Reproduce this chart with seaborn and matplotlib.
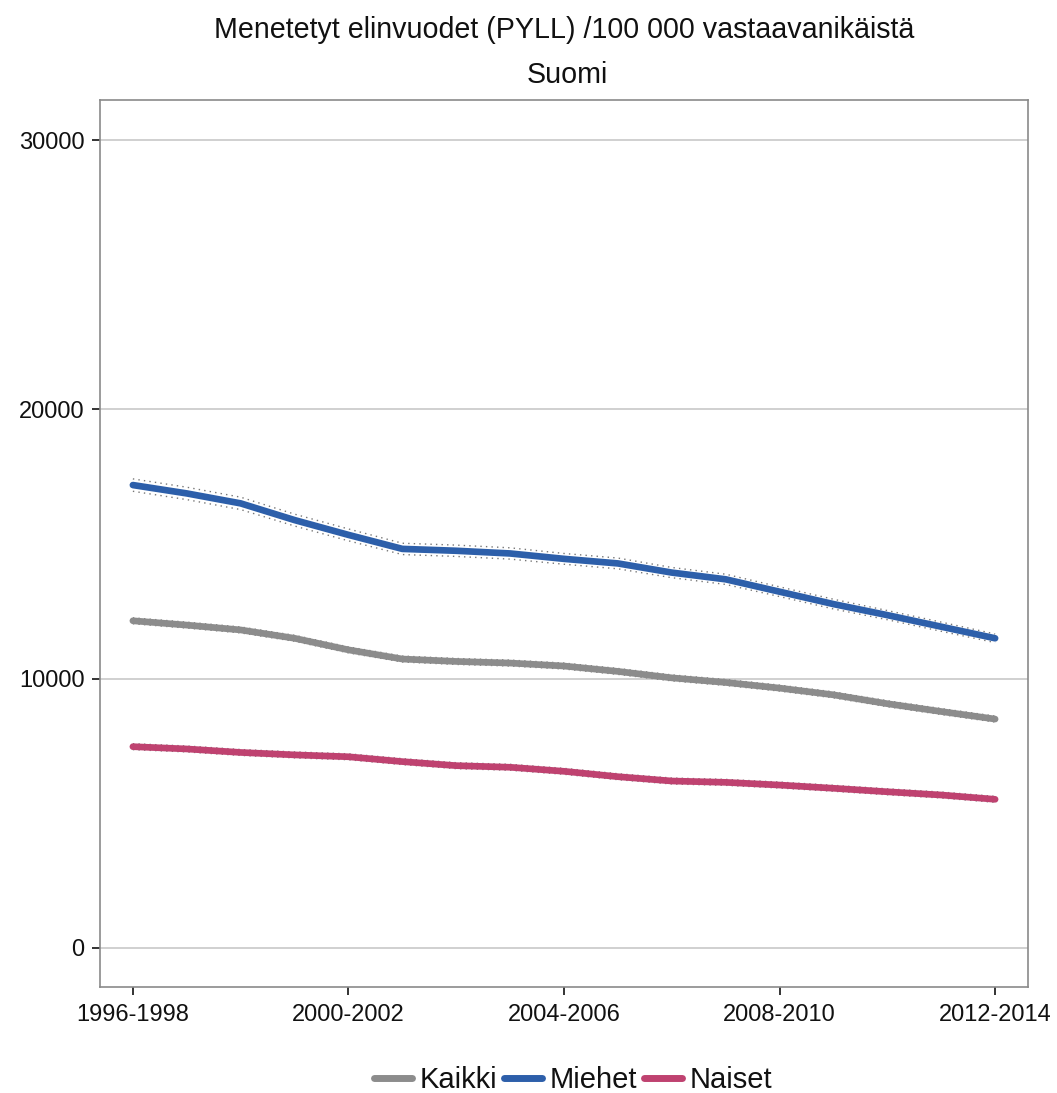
import numpy as np
import pandas as pd
import matplotlib
matplotlib.use("Agg")
import matplotlib.pyplot as plt
import seaborn as sns

periods = [f"{y}-{y+2}" for y in range(1996, 2013)]
kaikki = [12150, 11990, 11810, 11500, 11070, 10730, 10640, 10580, 10470,
          10270, 10030, 9860, 9650, 9400, 9070, 8780, 8500]
miehet = [17190, 16880, 16510, 15890, 15340, 14820, 14750, 14650, 14450,
          14280, 13940, 13690, 13230, 12770, 12360, 11930, 11500]
naiset = [7475, 7390, 7260, 7170, 7100, 6920, 6770, 6710, 6560,
          6360, 6200, 6150, 6050, 5930, 5800, 5680, 5520]
ci_kaikki = [110] * 17
ci_miehet = [230, 230, 230, 220, 220, 210, 210, 210, 200,
             200, 190, 190, 180, 180, 170, 170, 160]
ci_naiset = [110] * 17
series_names = ["Kaikki", "Miehet", "Naiset"]
colors = {"Kaikki": "#8c8c8c", "Miehet": "#2d5faa", "Naiset": "#bf4270"}
tick_labels = ["1996-1998", "2000-2002", "2004-2006", "2008-2010", "2012-2014"]

rows = []
for name, vals, ci in zip(series_names, [kaikki, miehet, naiset],
                          [ci_kaikki, ci_miehet, ci_naiset]):
    for i, (p, v, c) in enumerate(zip(periods, vals, ci)):
        rows.append({"idx": i, "period": p, "series": name, "value": v,
                     "low": v - c, "high": v + c})
df = pd.DataFrame(rows)

sns.set_style("white")
plt.rcParams["font.family"] = ["Liberation Sans", "DejaVu Sans"]

fig = plt.figure(figsize=(10.57, 10.93), dpi=100)
ax = fig.add_axes([100 / 1057, 1 - 987 / 1093, 928 / 1057, 887 / 1093])

for name in series_names:
    sub = df[df.series == name]
    for col in ["low", "high"]:
        ax.plot(sub["idx"], sub[col], color="#777777", lw=1.0,
                ls=(0, (1, 3)), zorder=2)

sns.lineplot(data=df, x="idx", y="value", hue="series", hue_order=series_names,
             palette=colors, lw=4.8, ax=ax, zorder=3, legend=True)

ax.set_xlim(-0.61, 16.61)
ax.set_ylim(-1450, 31490)
ax.set_yticks([0, 10000, 20000, 30000])
ax.set_yticklabels(["0", "10000", "20000", "30000"])
ax.set_xticks([periods.index(t) for t in tick_labels])
ax.set_xticklabels(tick_labels)
ax.yaxis.grid(True, color="#c8c8c8", lw=1.2)
ax.xaxis.grid(False)
ax.set_axisbelow(True)
ax.tick_params(axis="both", labelsize=17, colors="#111111", length=6,
               width=1.2, direction="out", bottom=True, left=True)
ax.tick_params(axis="x", pad=6)
ax.tick_params(axis="y", pad=5)
for s in ax.spines.values():
    s.set_color("#8a8a8a")
    s.set_linewidth(1.2)
ax.set_xlabel("")
ax.set_ylabel("")

fig.text(564 / 1057, 1 - 30 / 1093, "Menetetyt elinvuodet (PYLL) /100 000 vastaavanikäistä",
         ha="center", va="center", fontsize=20.6, color="#111111")
fig.text(567 / 1057, 1 - 75 / 1093, "Suomi", ha="center", va="center",
         fontsize=20.6, color="#111111")

handles, labels = ax.get_legend_handles_labels()
for h in handles:
    h.set_linewidth(5)
ax.legend(handles, labels, loc="center", bbox_to_anchor=(573 / 1057, 1 - 1080 / 1093),
          bbox_transform=fig.transFigure, ncol=3, frameon=False, fontsize=21,
          handlelength=1.3, handletextpad=0.25, columnspacing=0.25,
          labelcolor="#111111")

fig.savefig("out.png", dpi=100)
